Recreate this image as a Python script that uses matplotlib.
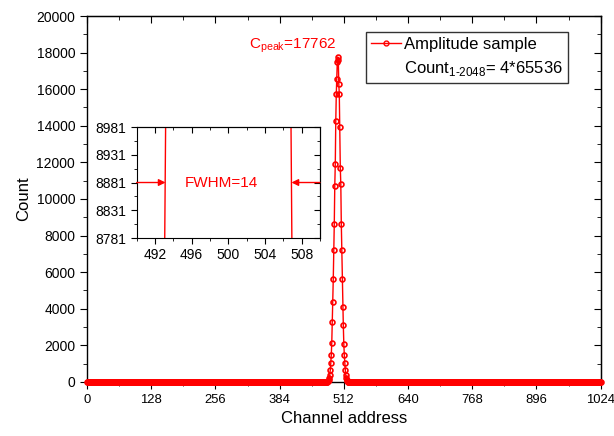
import numpy as np
import matplotlib
matplotlib.use("Agg")
import matplotlib.pyplot as plt
from matplotlib.lines import Line2D

plt.rcParams['font.family'] = ['Liberation Sans', 'DejaVu Sans']
plt.rcParams['mathtext.fontset'] = 'custom'
plt.rcParams['mathtext.rm'] = 'Liberation Sans'

# peak values (channels 480..520)
peak_channels = np.arange(480, 521)
peak_counts = [30, 60, 110, 200, 380, 655, 1015, 1470, 2145, 3290,
               4375, 5650, 7190, 8650, 10735, 11920, 14280, 15730, 16550, 17500,
               17762,
               17600, 16300, 15730, 13915, 11700, 10825, 8650, 7190, 5650, 4100,
               3100, 2100, 1470, 1015, 655, 380, 200, 90, 40, 10]

channels = np.arange(0, 1025)
counts = np.zeros(len(channels))
counts[peak_channels] = peak_counts

fwhm_left = 493.15
fwhm_right = 506.9
half_max = 8881
red = '#ff0000'

fig = plt.figure(figsize=(6.14, 4.36), dpi=100)
ax = fig.add_axes([0.1417, 0.1239, 0.8365, 0.8394])
ax.plot(channels, counts, color=red, lw=1, marker='o', ms=3.5, mfc='none', mew=1.2,
        clip_on=False, zorder=3)
ax.set_xlim(0, 1024)
ax.set_ylim(0, 20000)
ax.set_xticks(np.arange(0, 1025, 128))
ax.set_xticks(np.arange(0, 1025, 64), minor=True)
ax.set_yticks(np.arange(0, 20001, 2000))
ax.set_yticks(np.arange(0, 20001, 1000), minor=True)
ax.tick_params(which='both', direction='out', labelsize=10)
ax.tick_params(axis='x', labelsize=9.4)
ax.tick_params(which='major', length=5)
ax.tick_params(which='minor', length=3)
ax.set_xlabel('Channel address', fontsize=12)
ax.set_ylabel('Count', fontsize=12)
for s in ax.spines.values():
    s.set_linewidth(1)

# mirrored inward ticks on top and right
axt = ax.secondary_xaxis('top')
axt.set_xticks(np.arange(0, 1025, 128))
axt.set_xticks(np.arange(0, 1025, 64), minor=True)
axt.tick_params(which='both', direction='in', labeltop=False)
axt.tick_params(which='major', length=5)
axt.tick_params(which='minor', length=3)
axr = ax.secondary_yaxis('right')
axr.set_yticks(np.arange(0, 20001, 2000))
axr.set_yticks(np.arange(0, 20001, 1000), minor=True)
axr.tick_params(which='both', direction='in', labelright=False)
axr.tick_params(which='major', length=5)
axr.tick_params(which='minor', length=3)

ax.text(497, 17850, r'C$_{\mathregular{peak}}$=17762', color=red, fontsize=11,
        ha='right', va='bottom')

h1 = Line2D([], [], color=red, lw=1, marker='o', ms=3.5, mfc='none', mew=1)
h2 = Line2D([], [], color='none')
leg = fig.legend([h1, h2], ['Amplitude sample', r'Count$_{\text{1-2048}}$= 4*65536'],
                 loc='upper left', bbox_to_anchor=(366 / 614, 1 - 32 / 436), fontsize=12,
                 frameon=True, fancybox=False, edgecolor='black', handlelength=1.8,
                 labelspacing=0.45, borderpad=0.3, handletextpad=0.2, borderaxespad=0)
leg.get_frame().set_linewidth(1)

# inset
ins = fig.add_axes([0.2226, 0.4541, 0.2984, 0.2546])
ins.plot(channels, counts, color=red, lw=1)
ins.set_xlim(490, 510)
ins.set_ylim(8781, 8981)
ins.set_xticks(np.arange(492, 509, 4))
ins.set_xticks(np.arange(490, 511, 2), minor=True)
ins.set_yticks(np.arange(8781, 8982, 50))
ins.set_yticks(np.arange(8806, 8982, 50), minor=True)
ins.tick_params(which='both', direction='out', labelsize=10)
ins.tick_params(which='major', length=4)
ins.tick_params(which='minor', length=2.5)
insr = ins.secondary_yaxis('right')
insr.set_yticks(np.arange(8781, 8982, 50))
insr.set_yticks(np.arange(8806, 8982, 50), minor=True)
insr.tick_params(which='both', direction='in', labelright=False)
insr.tick_params(which='major', length=4)
insr.tick_params(which='minor', length=2.5)
inst = ins.secondary_xaxis('top')
inst.set_xticks(np.arange(492, 509, 4))
inst.set_xticks(np.arange(490, 511, 2), minor=True)
inst.tick_params(which='both', direction='in', labeltop=False)
inst.tick_params(which='major', length=4)
inst.tick_params(which='minor', length=2.5)

ins.annotate('', xy=(fwhm_left, half_max), xytext=(490, half_max),
             arrowprops=dict(arrowstyle='-|>', color=red, lw=1, mutation_scale=10,
                             shrinkA=0, shrinkB=0))
ins.annotate('', xy=(fwhm_right, half_max), xytext=(510, half_max),
             arrowprops=dict(arrowstyle='-|>', color=red, lw=1, mutation_scale=10,
                             shrinkA=0, shrinkB=0))
ins.text(499.2, half_max, 'FWHM=14', color=red, fontsize=11, ha='center', va='center')

fig.savefig('out.png', dpi=100)
